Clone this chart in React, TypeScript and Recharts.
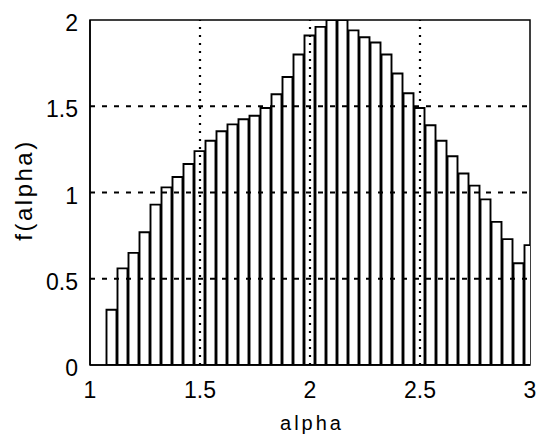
import React from 'react';
import { BarChart, Bar, XAxis, YAxis, ReferenceLine, ReferenceArea, Label } from 'recharts';

const alphaValues = [
  1.1, 1.15, 1.2, 1.25, 1.3, 1.35, 1.4, 1.45, 1.5, 1.55,
  1.6, 1.65, 1.7, 1.75, 1.8, 1.85, 1.9, 1.95, 2.0, 2.05,
  2.1, 2.15, 2.2, 2.25, 2.3, 2.35, 2.4, 2.45, 2.5, 2.55,
  2.6, 2.65, 2.7, 2.75, 2.8, 2.85, 2.9, 2.95, 3.0,
];
const fValues = [
  0.32, 0.56, 0.65, 0.77, 0.93, 1.03, 1.09, 1.165, 1.24, 1.3,
  1.355, 1.395, 1.425, 1.445, 1.49, 1.57, 1.67, 1.8, 1.91, 1.96,
  2.0, 2.0, 1.94, 1.9, 1.87, 1.8, 1.69, 1.575, 1.49, 1.39,
  1.3, 1.21, 1.11, 1.04, 0.96, 0.83, 0.73, 0.59, 0.695,
];
const xTicks = [1, 1.5, 2, 2.5, 3];
const yTicks = [0, 0.5, 1, 1.5, 2];
const xGrid = [1.5, 2, 2.5];
const yGrid = [0.5, 1, 1.5];

const data = alphaValues.map((a, i) => ({ alpha: a, f: fValues[i] }));

const FONT = '"Liberation Sans", Arial, sans-serif';

export default function App() {
  return (
    <div style={{ position: 'absolute', left: 0, top: 0, background: '#fff' }}>
      <BarChart
        width={537}
        height={435}
        data={data}
        margin={{ top: 20, right: 7, left: 0, bottom: 0 }}
        barSize={10}
      >
        <XAxis
          dataKey="alpha"
          type="number"
          domain={[1, 3]}
          ticks={xTicks}
          allowDataOverflow
          height={70}
          tickLine={false}
          tickSize={4}
          tickMargin={13}
          axisLine={{ stroke: '#000', strokeWidth: 1.5 }}
          tick={{ fill: '#000', fontSize: 23, fontFamily: FONT }}
          interval={0}
        >
          <Label
            value="alpha"
            position="insideBottom"
            offset={5}
            dx={2}
            style={{ fill: '#000', fontSize: 20, fontFamily: FONT, letterSpacing: 3 }}
          />
        </XAxis>
        <YAxis
          type="number"
          domain={[0, 2]}
          ticks={yTicks}
          allowDataOverflow
          width={90}
          tickLine={false}
          tickSize={4}
          tickMargin={8}
          axisLine={{ stroke: '#000', strokeWidth: 1.5 }}
          tick={{ fill: '#000', fontSize: 23, fontFamily: FONT, dy: 3 }}
          interval={0}
        >
          <Label
            content={() => (
              <text
                x={32}
                y={190}
                transform="rotate(-90 32 190)"
                textAnchor="middle"
                fill="#000"
                style={{ fontSize: 24, fontFamily: FONT, letterSpacing: 2.5 }}
              >
                f(alpha)
              </text>
            )}
          />
        </YAxis>
        <Bar
          dataKey="f"
          fill="#fff"
          stroke="#000"
          strokeWidth={1.9}
          isAnimationActive={false}
        />
        {xGrid.map((x) => (
          <ReferenceLine
            key={'vx' + x}
            x={x}
            stroke="#000"
            strokeWidth={2.2}
            strokeDasharray="2 6"
          />
        ))}
        {yGrid.map((y) => (
          <ReferenceLine
            key={'hy' + y}
            y={y}
            stroke="#000"
            strokeWidth={2}
            strokeDasharray="5 7"
          />
        ))}
        <ReferenceArea
          x1={1}
          x2={3}
          y1={0}
          y2={2}
          fill="none"
          fillOpacity={0}
          stroke="#000"
          strokeWidth={1.5}
        />
      </BarChart>
    </div>
  );
}
